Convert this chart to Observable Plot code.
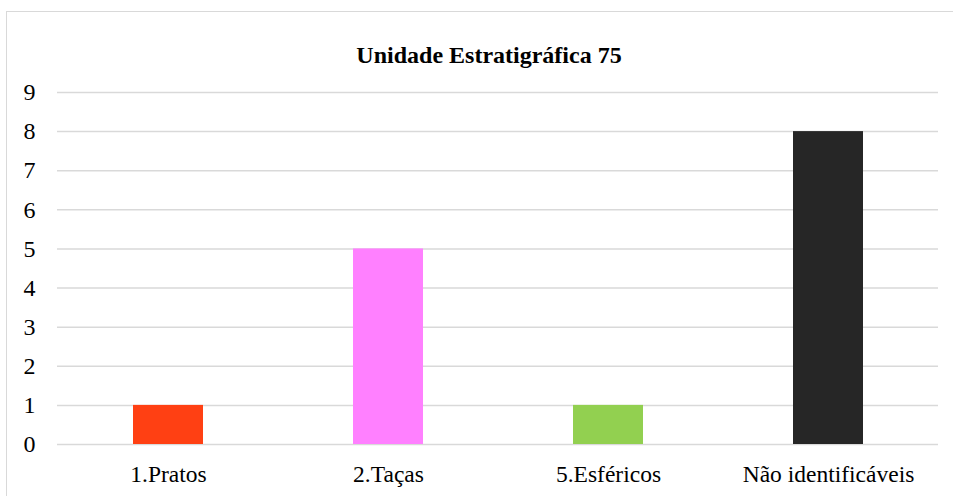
<!DOCTYPE html>
<html>
<head>
<meta charset="utf-8">
<script src="https://cdn.jsdelivr.net/npm/d3@7"></script>
<script src="https://cdn.jsdelivr.net/npm/@observablehq/plot@0.6"></script>
<style>
  html, body { margin: 0; padding: 0; background: #fff; overflow: hidden; }
  #frame { position: absolute; left: 6px; top: 11px; width: 980px; height: 520px;
           border: 1.5px solid #d9d9d9; box-sizing: border-box; }
  #title { position: absolute; left: 489px; top: 42px; transform: translateX(-50%);
           font-family: "Liberation Serif", Tinos, "Times New Roman", Times, "Nimbus Roman", "DejaVu Serif", serif; font-weight: bold;
           font-size: 24px; white-space: nowrap; color: #000; }
  #chart { position: absolute; left: 0; top: 72px; }
  #chart svg text { font-family: "Liberation Serif", Tinos, "Times New Roman", Times, "Nimbus Roman", "DejaVu Serif", serif; }
</style>
</head>
<body>
<div id="frame"></div>
<div id="title">Unidade Estratigráfica 75</div>
<div id="chart"></div>
<script>
const categories = ["1.Pratos", "2.Taças", "5.Esféricos", "Não identificáveis"];
const values = [1, 5, 1, 8];
const colors = ["#FF4013", "#FF80FF", "#92D050", "#262626"];
const yTicks = [0, 1, 2, 3, 4, 5, 6, 7, 8, 9];

const data = categories.map((c, i) => ({category: c, value: values[i], color: colors[i]}));

const chart = Plot.plot({
  width: 953,
  height: 424,
  marginTop: 20,
  marginBottom: 52,
  marginLeft: 57,
  marginRight: 15,
  style: {fontSize: "24px", color: "#000", background: "transparent"},
  x: {domain: categories, paddingInner: 0.682, paddingOuter: 0.341, label: null},
  y: {domain: [0, 9], ticks: yTicks, label: null},
  marks: [
    Plot.gridY(yTicks, {stroke: "#d9d9d9", strokeOpacity: 1, strokeWidth: 1.5}),
    Plot.barY(data, {x: "category", y: "value", fill: "color"}),
    Plot.axisY(yTicks, {tickSize: 0, tickPadding: 22, fill: "#000", fontSize: 24, tickFormat: d => String(d)}),
    Plot.axisX({tickSize: 0, tickPadding: 21, fill: "#000", fontSize: 23.5})
  ]
});
document.getElementById("chart").appendChild(chart);
</script>
</body>
</html>
